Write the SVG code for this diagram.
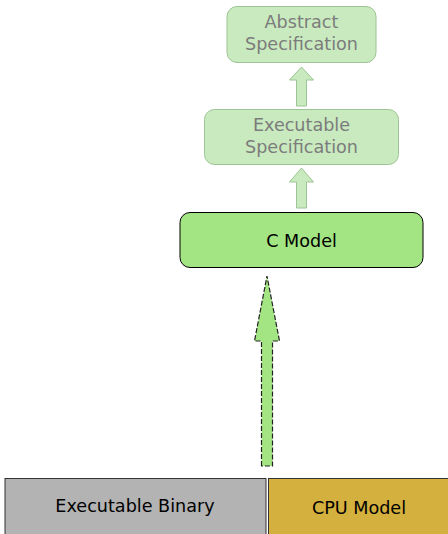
<svg xmlns="http://www.w3.org/2000/svg" width="448" height="534" viewBox="0 0 448 534">
<style>
text{font-family:"DejaVu Sans",sans-serif;font-size:17.6px;text-anchor:middle;dominant-baseline:central}
.faded rect{fill:#c9eabf;stroke:#9cc494;stroke-width:1}
.faded text{fill:#7c7c7c}
.fa{fill:#c9eabf;stroke:#9cc494;stroke-width:1}
</style>
<rect width="448" height="534" fill="#fff"/>
<g id="abstract-spec" class="faded">
<rect x="227" y="6.5" width="149" height="56" rx="10"/>
<text x="301.5" y="22">Abstract</text>
<text x="301.5" y="44">Specification</text>
</g>
<g id="exec-spec" class="faded">
<rect x="204.5" y="109.5" width="194" height="55" rx="10"/>
<text x="301.5" y="125">Executable</text>
<text x="301.5" y="147">Specification</text>
</g>
<g id="c-model">
<rect x="180" y="212.5" width="243" height="55" rx="10" fill="#a3e583" stroke="#000" stroke-width="1"/>
<text x="301.5" y="241">C Model</text>
</g>
<g id="exec-binary">
<rect x="5" y="478.5" width="261" height="60" fill="#b3b3b3" stroke="#333" stroke-width="1"/>
<text x="135" y="506">Executable Binary</text>
</g>
<g id="cpu-model">
<rect x="268.5" y="478.5" width="185" height="60" fill="#d4b03f" stroke="#333" stroke-width="1"/>
<text x="359" y="508">CPU Model</text>
</g>
<g id="connectors">
<path class="fa" d="M296.5,106 V80 H289.5 L301.5,67 L313.5,80 H306.5 V106 Z"/>
<path class="fa" d="M296.5,208 V182 H289.5 L301.5,168 L313.5,182 H306.5 V208 Z"/>
<path d="M261.5,466 V341 H254.5 L267,276 L279.5,341 H272.5 V466 Z" fill="#a3e583" stroke="#222" stroke-width="1.2" stroke-dasharray="5,2"/>
</g>
</svg>
